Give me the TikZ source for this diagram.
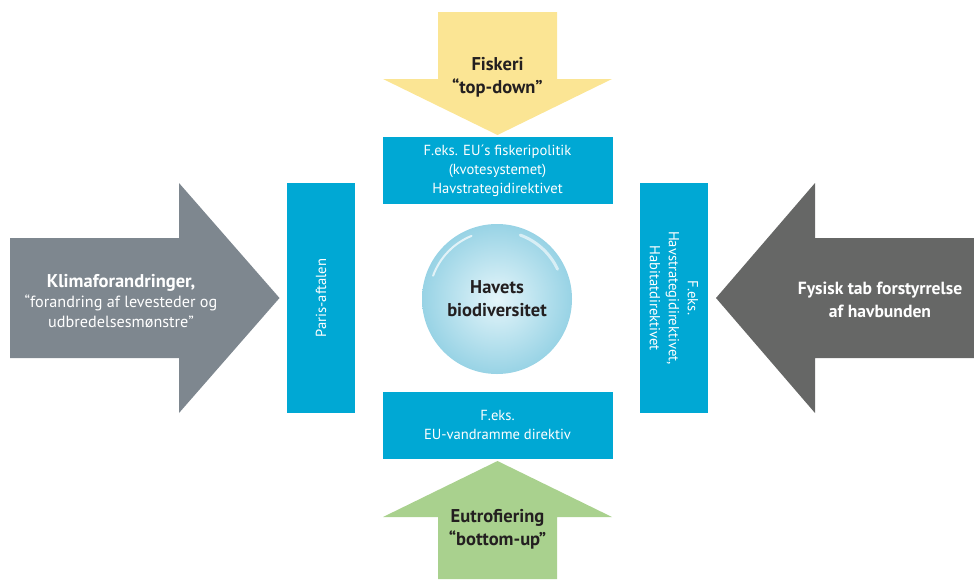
\documentclass[tikz,border=0pt]{standalone}
\usepackage{fontspec}
\setmainfont{PT Sans}
\usepackage{tikz}
\usetikzlibrary{calc}
\usetikzlibrary{positioning}
\definecolor{fiskyellow}{HTML}{FBE594}
\definecolor{eutrogreen}{HTML}{A9D18E}
\definecolor{klimagray}{HTML}{7E878F}
\definecolor{fysgray}{HTML}{666766}
\definecolor{dirblue}{HTML}{00A8D4}
\definecolor{bubbleedge}{HTML}{98D3E5}
\definecolor{bubblelight}{HTML}{E4F5FA}
\definecolor{labeldark}{HTML}{231F20}
\tikzset{dir/.style={fill=dirblue,text=white,inner sep=0pt,align=center,font=\fontsize{14.6}{19}\selectfont}}

\begin{document}
\begin{tikzpicture}[x=1pt,y=-1pt]
\tikzset{lbl/.style={align=center,text=labeldark,font=\fontsize{18.5}{23}\selectfont\bfseries}}
\useasboundingbox (0,0) rectangle (974,579);

% the four pressures
\fill[fiskyellow] (438,12) -- (557,12) -- (557,79) -- (612,79) -- (497.5,135) -- (383,79) -- (438,79) -- cycle;
\fill[eutrogreen] (438,579) -- (438,517) -- (383,517) -- (497.5,461) -- (612,517) -- (557,517) -- (557,579) -- cycle;
\fill[klimagray] (10,238) -- (179,238) -- (179,183) -- (279.5,298) -- (179,413) -- (179,358) -- (10,358) -- cycle;
\fill[fysgray] (974,238) -- (815,238) -- (815,183) -- (716,298) -- (815,413) -- (815,358) -- (974,358) -- cycle;

\node[lbl] (fisk) at (497.5,77) {Fiskeri\\“top-down”};
\node[lbl] (eutro) at (497.5,529) {Eutrofiering\\“bottom-up”};
\node[align=center,text=white,font=\fontsize{16.2}{20}\selectfont] (klima) at (121,301)
  {{\fontsize{18.5}{20}\selectfont\bfseries Klimaforandringer,}\\“forandring af levesteder og\\udbredelsesmønstre”};
\node[align=center,text=white,font=\fontsize{17.6}{23}\selectfont\bfseries] (fysisk) at (880,300) {Fysisk tab forstyrrelse\\af havbunden};

% the directives
\node[dir,minimum width=230,minimum height=67] (fiskpol) at (497.5,170.5) {F.eks. EU´s fiskeripolitik\\(kvotesystemet)\\Havstrategidirektivet};
\node[dir,minimum width=230,minimum height=67] (vand) at (497.5,425) {F.eks.\\EU-vandramme direktiv};
\node[dir,rotate=90,minimum width=230,minimum height=68] (paris) at (321,298) {Paris-aftalen};
\node[dir,rotate=-90,minimum width=230,minimum height=68] (habitat) at (674,298) {F.eks.\\Havstrategidirektivet,\\Habitatdirektivet};

% the bubble
\node[circle,shade,inner color=bubblelight,outer color=bubbleedge,minimum size=150,inner sep=0pt,lbl] (bio) at (497,299) {Havets\\biodiversitet};
\draw[white,opacity=0.7,line width=2pt,line cap=round] ($(bio.center)+(-63.9,-23.3)$) arc[start angle=160,end angle=112,radius=68pt];
\draw[white,opacity=0.6,line width=3pt,line cap=round] ($(bio.center)+(23.3,-63.9)$) arc[start angle=70,end angle=25,radius=66pt];

\end{tikzpicture}
\end{document}
